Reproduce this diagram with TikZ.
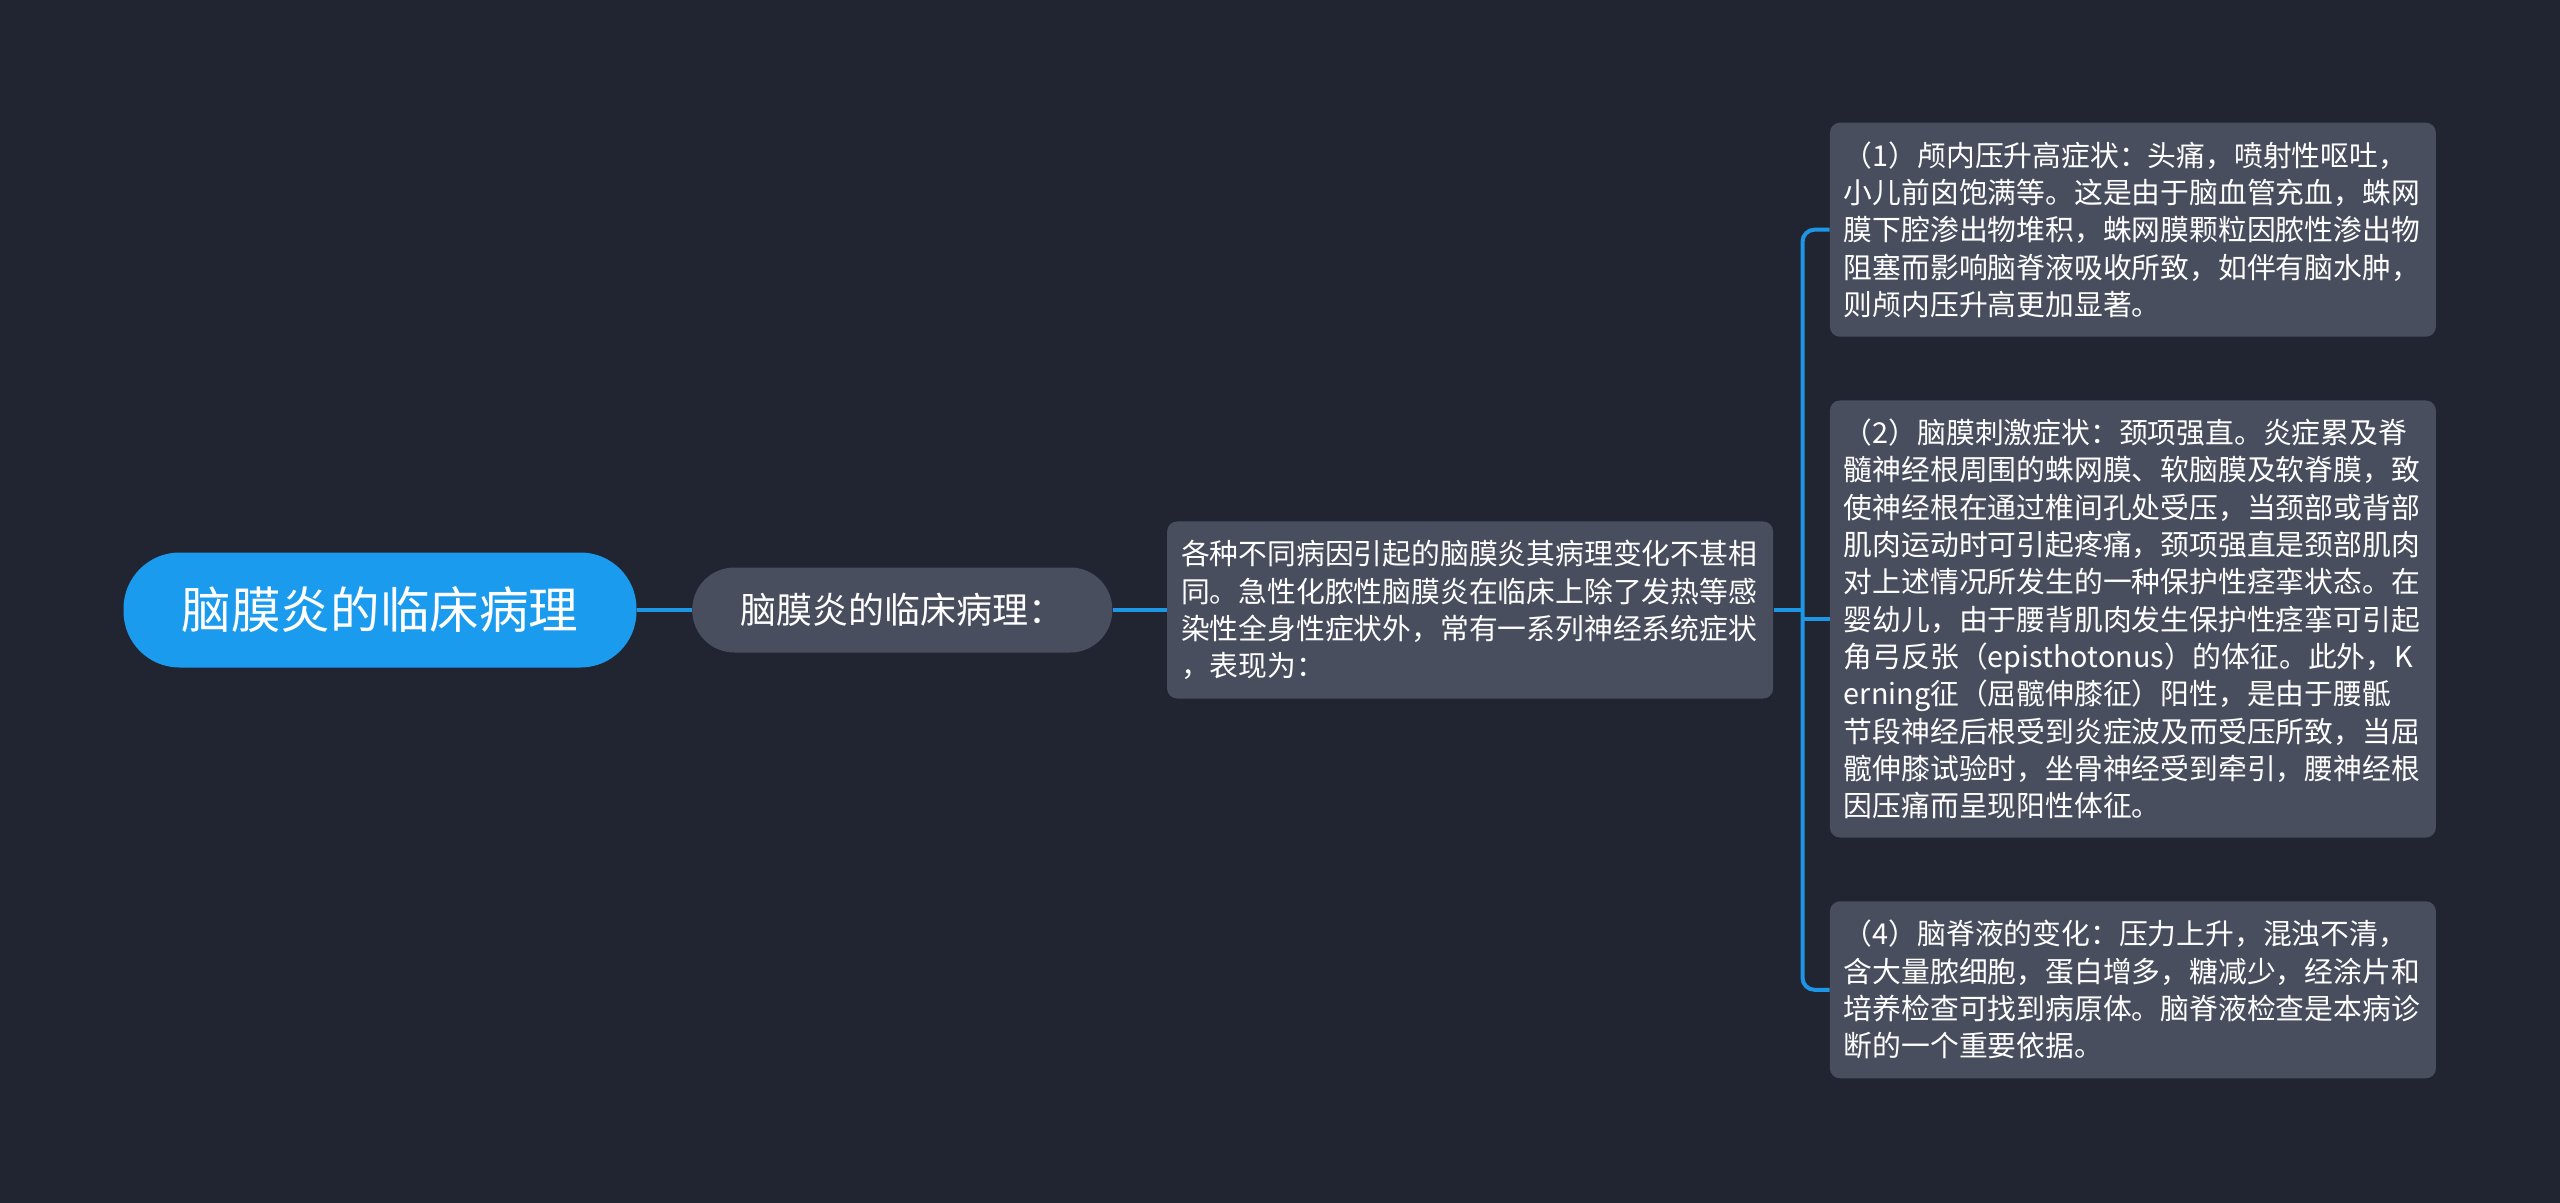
\documentclass[tikz,border=0pt]{standalone}
\usepackage{fontspec}
\setmainfont{Noto Sans CJK SC}
\usepackage{tikz}
\usetikzlibrary{positioning}

\definecolor{canvas}{RGB}{33,37,49}
\definecolor{rootblue}{RGB}{27,155,238}
\definecolor{boxgrey}{RGB}{73,78,94}
\definecolor{linkblue}{RGB}{30,150,230}

\begin{document}
\begin{tikzpicture}[
    x=0.5pt, y=-0.5pt,
    root/.style={rectangle, rounded corners=28pt, fill=rootblue, text=white, minimum width=256.5pt, minimum height=57.5pt, font=\fontsize{24.8pt}{30pt}\selectfont},
    topic/.style={rectangle, rounded corners=21pt, fill=boxgrey, text=white, minimum width=210pt, minimum height=42.5pt, font=\fontsize{18pt}{22pt}\selectfont},
    detail/.style={rectangle, rounded corners=5pt, fill=boxgrey, text=white, align=left, text width=289pt, inner xsep=7pt, inner ysep=0pt, font=\fontsize{14.4pt}{18.65pt}\selectfont},
    link/.style={draw=linkblue, line width=2pt},
]
% Canvas
\fill [canvas] (0,0) rectangle (2560,1203);

% Main branch
\node (root) [root] at (380,610) {脑膜炎的临床病理};
\node (topic) [topic, right=27.5pt of root] {脑膜炎的临床病理：};
\node (desc) [detail, minimum height=88.5pt, right=27pt of topic] {各种不同病因引起的脑膜炎其病理变化不甚相\\同。急性化脓性脑膜炎在临床上除了发热等感\\染性全身性症状外，常有一系列神经系统症状\\，表现为：};

% Symptoms
\node (b2) [detail, minimum height=218.5pt, right=28pt of desc, yshift=-4.5pt] {（2）脑膜刺激症状：颈项强直。炎症累及脊\\髓神经根周围的蛛网膜、软脑膜及软脊膜，致\\使神经根在通过椎间孔处受压，当颈部或背部\\肌肉运动时可引起疼痛，颈项强直是颈部肌肉\\对上述情况所发生的一种保护性痉挛状态。在\\婴幼儿，由于腰背肌肉发生保护性痉挛可引起\\角弓反张（episthotonus）的体征。此外，K\\erning征（屈髋伸膝征）阳性，是由于腰骶\\节段神经后根受到炎症波及而受压所致，当屈\\髋伸膝试验时，坐骨神经受到牵引，腰神经根\\因压痛而呈现阳性体征。};
\node (b1) [detail, minimum height=107pt, above=31.5pt of b2] {（1）颅内压升高症状：头痛，喷射性呕吐，\\小儿前囟饱满等。这是由于脑血管充血，蛛网\\膜下腔渗出物堆积，蛛网膜颗粒因脓性渗出物\\阻塞而影响脑脊液吸收所致，如伴有脑水肿，\\则颅内压升高更加显著。};
\node (b3) [detail, minimum height=88.5pt, below=31.5pt of b2] {（4）脑脊液的变化：压力上升，混浊不清，\\含大量脓细胞，蛋白增多，糖减少，经涂片和\\培养检查可找到病原体。脑脊液检查是本病诊\\断的一个重要依据。};

% Links
\coordinate [right=14.5pt of desc.east] (fork);
\draw [link] (root) -- (topic);
\draw [link] (topic) -- (desc);
\draw [link] (desc) -- (fork);
\draw [link, rounded corners=6pt] (b1.west) -| (fork) |- (b3.west);
\draw [link] (fork |- b2.west) -- (b2.west);

\end{tikzpicture}
\end{document}
